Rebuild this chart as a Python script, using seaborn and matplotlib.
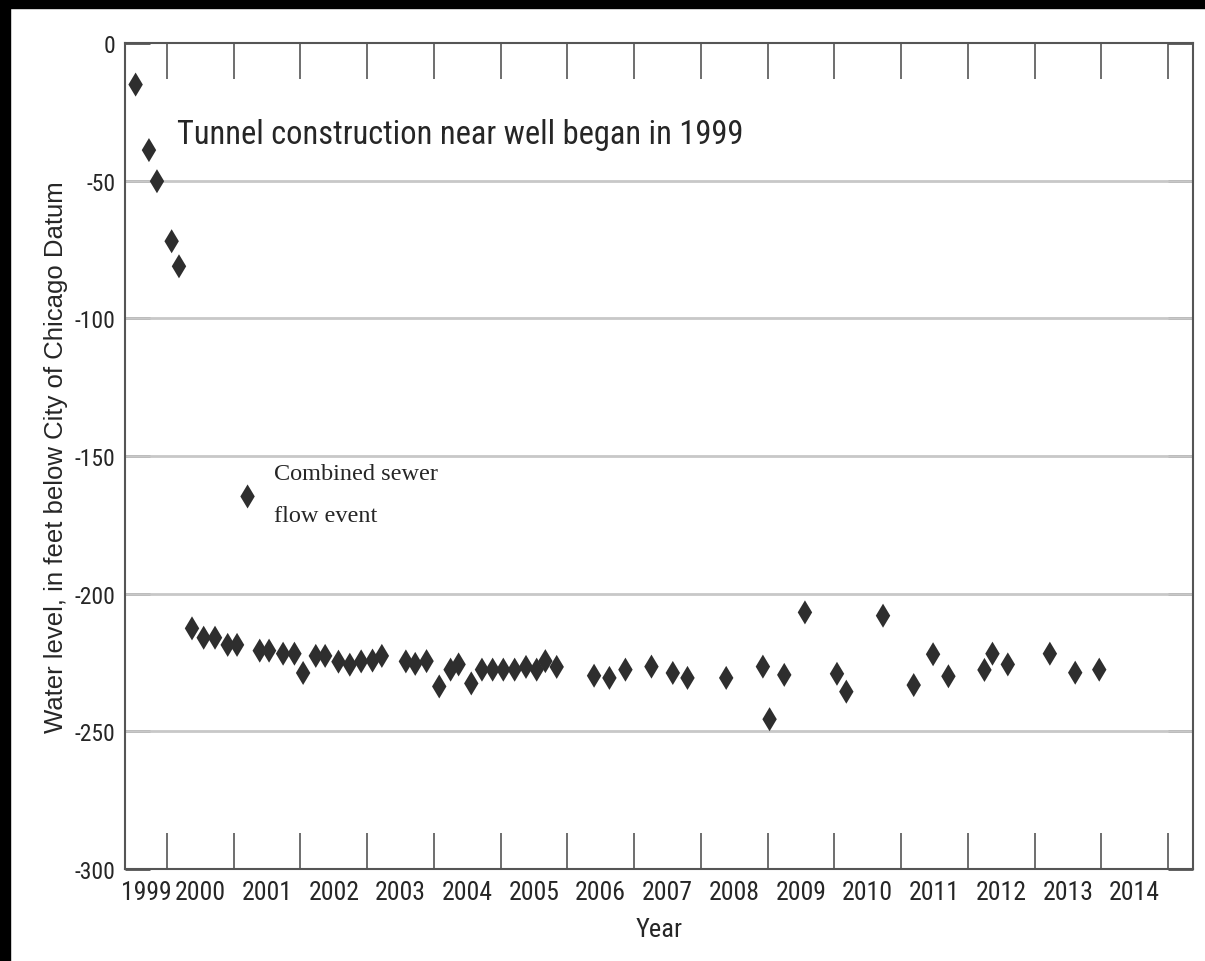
import numpy as np
import pandas as pd
import seaborn as sns
import matplotlib.pyplot as plt
from matplotlib import font_manager as fm
from matplotlib.patches import Rectangle

# decimal year / water level (feet, below City of Chicago Datum)
year = [1999.53, 1999.73, 1999.85, 2000.07, 2000.18,
        2000.375, 2000.55, 2000.72, 2000.91, 2001.05, 2001.39, 2001.53, 2001.74, 2001.91, 2002.04,
        2002.23, 2002.37, 2002.57, 2002.74, 2002.91, 2003.08, 2003.22, 2003.58, 2003.72,
        2003.89, 2004.08, 2004.25, 2004.37, 2004.56, 2004.72, 2004.88, 2005.04, 2005.21, 2005.38,
        2005.54, 2005.67, 2005.84, 2006.40, 2006.63, 2006.87,
        2007.26, 2007.58, 2007.80, 2008.38, 2008.93, 2009.03, 2009.25, 2009.56, 2010.04, 2010.18, 2010.73,
        2011.19, 2011.48, 2011.71, 2012.25, 2012.37, 2012.60, 2013.23, 2013.61, 2013.97]
level = [-15.1, -38.9, -50.2, -72.0, -81.1,
         -212.6, -216.0, -216.0, -218.6, -218.6, -220.7, -220.7, -221.8, -221.8, -228.8,
         -222.6, -222.6, -224.7, -225.8, -224.6, -224.3, -222.6, -224.6, -225.5,
         -224.5, -233.7, -227.6, -225.7, -232.6, -227.6, -227.6, -227.6, -227.6, -226.6,
         -227.6, -224.5, -226.6, -229.8, -230.6, -227.6,
         -226.5, -228.8, -230.6, -230.6, -226.5, -245.6, -229.5, -206.8, -229.1, -235.6, -208.0,
         -233.2, -222.0, -230.0, -227.7, -221.8, -225.7, -221.8, -228.7, -227.6]

year_edges = list(range(2000, 2016))
year_labels = [str(y) for y in range(1999, 2015)]
label_pos = [1999.69] + [y + 0.5 for y in range(2000, 2015)]
y_ticks = [0, -50, -100, -150, -200, -250, -300]

df = pd.DataFrame({"Year": year, "Level": level})

sns.set_style("white")
plt.rcParams["axes.unicode_minus"] = False

# pick a condensed sans if one is installed
fonts = fm.fontManager.ttflist
names = {f.name for f in fonts}
narrow = {"family": ["Liberation Sans", "DejaVu Sans"]}
if "Liberation Sans Narrow" in names:
    narrow = {"family": ["Liberation Sans Narrow", "DejaVu Sans"]}
elif "Roboto Condensed" in names:
    narrow = {"family": ["Roboto Condensed", "DejaVu Sans"]}
elif any(f.name == "DejaVu Sans" and f.stretch == "condensed" for f in fonts):
    narrow = {"family": ["DejaVu Sans"], "stretch": "condensed"}

fig = plt.figure(figsize=(12.05, 9.62), dpi=100)
ax = fig.add_axes([125 / 1205, 1 - 870 / 962, 1068 / 1205, 826 / 962])

sns.scatterplot(data=df, x="Year", y="Level", marker="d", s=150, color="#2e2e2e",
                edgecolor="none", ax=ax, label="Combined sewer\nflow event", zorder=3)

ax.set_xlim(1999.371, 2015.375)
ax.set_ylim(-300, 0)

for gy in y_ticks[1:-1]:
    ax.axhline(gy, color="#c8c8c8", lw=2, zorder=1)

for s in ax.spines.values():
    s.set_color("#555555")
    s.set_linewidth(1.5)

ax.set_xticks(year_edges)
ax.set_xticklabels([])
ax.set_xticks(label_pos, minor=True)
ax.set_xticklabels(year_labels, minor=True, fontsize=18.5, **narrow)
ax.tick_params(axis="x", which="major", direction="in", length=26, width=1.2,
               color="#555555", top=True, bottom=True)
ax.tick_params(axis="x", which="minor", length=0, pad=8)

ax.set_yticks(y_ticks)
ax.set_yticklabels([str(v) for v in y_ticks], fontsize=17, **narrow)
ax.tick_params(axis="y", direction="in", length=18, width=1.8, color="#333333",
               left=True, right=True, pad=7)

ax.set_xlabel("Year", fontsize=19, **narrow)
ax.xaxis.set_label_coords(0.5, -0.058)
ax.set_ylabel("Water level, in feet below City of Chicago Datum",
              family=["Liberation Sans", "DejaVu Sans"], fontsize=18.5)
ax.yaxis.set_label_coords(-0.053, 0.5)

# annotation text, sized to span the same width as in the source
title = ax.text(2000.15, -33, "Tunnel construction near well began in 1999",
                fontsize=30, va="center", ha="left", **narrow)
fig.canvas.draw()
w = title.get_window_extent().width
title.set_fontsize(min(30, 30 * 568 / w))

leg = ax.legend(loc="center left", bbox_to_anchor=(0.092, 0.453), frameon=False,
                prop={"family": ["Liberation Serif", "DejaVu Serif"], "size": 17.5},
                handlelength=1.0, handletextpad=0.6, borderpad=0, labelspacing=0)
for t in leg.get_texts():
    t.set_linespacing(2.3)

# black frame strips along top and left edges
fig.patches.append(Rectangle((0, 0), 10 / 1205, 1, transform=fig.transFigure,
                             color="black", zorder=10))
fig.patches.append(Rectangle((0, 1 - 9 / 962), 1, 9 / 962, transform=fig.transFigure,
                             color="black", zorder=10))

fig.savefig("out.png", dpi=100, facecolor="white")
